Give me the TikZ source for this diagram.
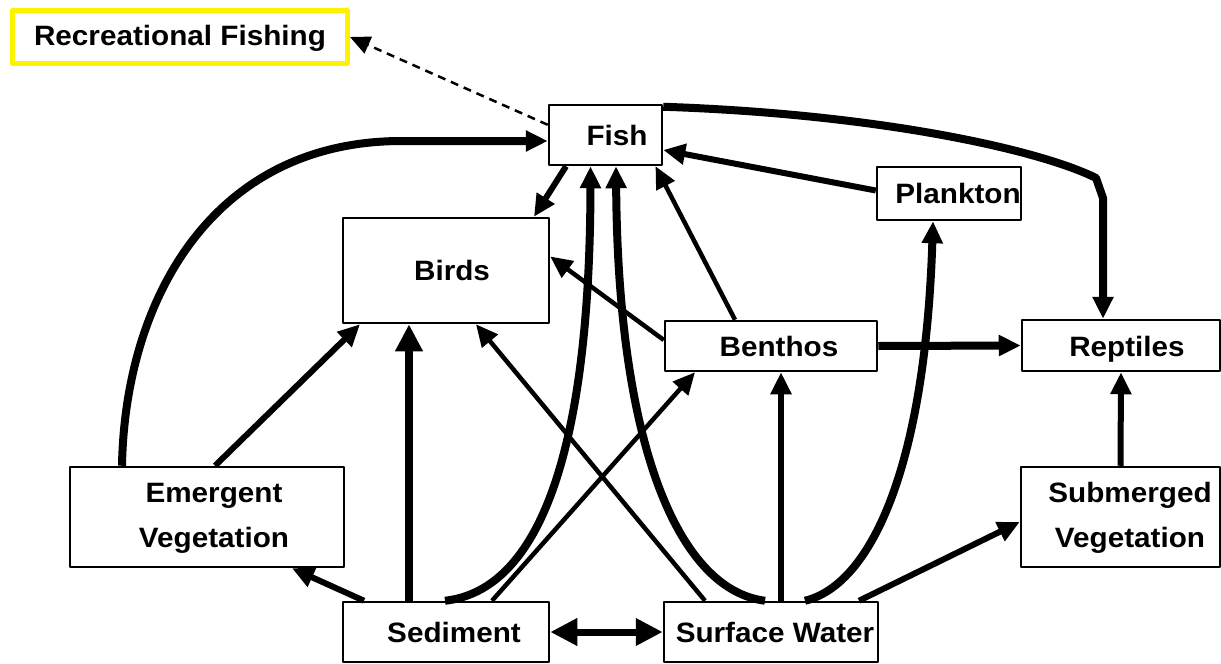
\documentclass[tikz,border=0pt]{standalone}
\usepackage{fontspec}
\newfontfamily\lab[FakeStretch=1.06]{Liberation Sans}
\usetikzlibrary{arrows.meta}
\begin{document}
\begin{tikzpicture}[x=1pt,y=-1pt,
  box/.style={draw, line width=2.5pt, fill=white, inner sep=0pt},
  lbl/.style={font=\lab\bfseries\fontsize{28}{45}\selectfont, align=center, inner sep=0pt},
  arrA/.style={-{Triangle[length=22pt,width=20pt]}},
  arrB/.style={-{Triangle[length=27pt,width=26pt]}},
  thickln/.style={line width=8pt},
  midln/.style={line width=6pt},
  thinln/.style={line width=4.5pt},
  line join=round]
\fill[white] (0,0) rectangle (1221,664);
\useasboundingbox (0,0) rectangle (1221,664);

% boxes
\node[box, draw=yellow, line width=5pt, minimum width=335pt, minimum height=53pt] (rec) at (180,37) {};
\node[box, minimum width=113pt, minimum height=60pt] (fish) at (605.5,135) {};
\node[box, minimum width=144pt, minimum height=53pt] (plankton) at (949,193.5) {};
\node[box, minimum width=206pt, minimum height=105pt] (birds) at (446,270.5) {};
\node[box, minimum width=212pt, minimum height=50pt] (benthos) at (771,346) {};
\node[box, minimum width=198pt, minimum height=51pt] (reptiles) at (1121,345.5) {};
\node[box, minimum width=274pt, minimum height=100pt] (emergent) at (207,517) {};
\node[box, minimum width=199pt, minimum height=100pt] (submerged) at (1120.5,517) {};
\node[box, minimum width=206pt, minimum height=60pt] (sediment) at (446,632) {};
\node[box, minimum width=214pt, minimum height=60pt] (surface) at (771,632) {};

% texts
\node[lbl] (recT) at (180,38) {Recreational Fishing};
\node[lbl] (fishT) at (617,135) {Fish};
\node[lbl] (planktonT) at (958,193) {Plankton};
\node[lbl] (birdsT) at (452,270) {Birds};
\node[lbl] (benthosT) at (779,346) {Benthos};
\node[lbl] (reptilesT) at (1127,349) {Reptiles};
\node[lbl] (emergentT) at (214,518) {Emergent\\Vegetation};
\node[lbl] (submergedT) at (1130,518) {Submerged\\Vegetation};
\node[lbl] (sedimentT) at (454,632) {Sediment};
\node[lbl] (surfaceT) at (775,632) {Surface Water};

% dashed to recreational fishing
\draw[line width=2.5pt, dash pattern=on 8pt off 6pt, -{Triangle[length=20pt,width=18pt]}]
  (fish.170) -- (rec.east);

% emergent -> fish
\coordinate (efA) at (400,141);
\draw[thickln, arrA] ([xshift=-85pt]emergent.north) .. controls (125,300) and (212,142) .. (efA) -- ([yshift=-6pt]fish.west);

% fish -> reptiles
\coordinate (frA) at (1096,178);
\coordinate (frB) at (1103,198);
\draw[thickln, arrA] ([yshift=-3pt]fish.north east) .. controls (880,114) and (1040,150) .. (frA) -- (frB) -- ([xshift=-18pt]reptiles.north);

% fish -> birds
\draw[midln, arrA] ([xshift=-39.5pt]fish.south) -- ([xshift=88pt]birds.north);

% plankton -> fish
\draw[midln, arrA] ([yshift=3pt]plankton.west) -- ([yshift=-15pt]fish.east);

% benthos -> fish, birds, reptiles
\draw[thinln, arrA] ([xshift=-36pt]benthos.north) -- ([xshift=50pt]fish.south);
\draw[thinln, arrA] ([yshift=6pt]benthos.west) -- ([yshift=14pt]birds.east);
\draw[thickln, arrA] (benthos.east) -- (reptiles.west);

% submerged -> reptiles
\draw[midln, arrA] (submerged.north) -- (reptiles.south);

% sediment edges
\draw[midln, arrA] ([xshift=-82pt]sediment.north) -- ([xshift=85pt]emergent.south);
\draw[thickln, arrB] ([xshift=-37pt]sediment.north) -- ([xshift=-37pt]birds.south);
\draw[thickln, arrA] ([xshift=-1pt]sediment.north) .. controls (540,590) and (590,450) .. ([xshift=-15pt]fish.south);
\draw[thinln, arrA] ([xshift=46pt]sediment.north) -- ([xshift=-76pt]benthos.south);
\draw[line width=7pt, {Triangle[length=27pt,width=26pt]}-{Triangle[length=27pt,width=26pt]}] (sediment.east) -- (surface.west);

% emergent -> birds
\draw[midln, arrA] ([xshift=8pt]emergent.north) -- ([xshift=-86pt]birds.south);

% surface water edges
\draw[thinln, arrA] ([xshift=-66pt]surface.north) -- ([xshift=30pt]birds.south);
\draw[thickln, arrA] ([xshift=-6pt]surface.north) .. controls (680,590) and (618,450) .. ([xshift=10.5pt]fish.south);
\draw[midln, arrA] ([xshift=10pt]surface.north) -- ([xshift=10pt]benthos.south);
\draw[thickln, arrA] ([xshift=34pt]surface.north) .. controls (870,585) and (925,470) .. ([xshift=-16pt]plankton.south);
\draw[midln, arrA] ([xshift=88pt]surface.north) -- ([yshift=-5pt]submerged.west);
\end{tikzpicture}
\end{document}
